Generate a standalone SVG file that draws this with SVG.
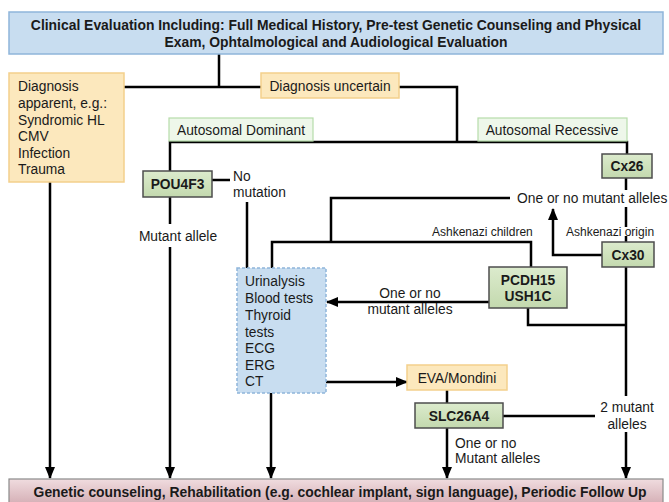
<svg xmlns="http://www.w3.org/2000/svg" width="669" height="502" viewBox="0 0 669 502">
<defs>
<linearGradient id="gGreen" x1="0" y1="0" x2="0" y2="1"><stop offset="0" stop-color="#dcebcd"/><stop offset="1" stop-color="#c3d9ae"/></linearGradient>
<linearGradient id="gPink" x1="0" y1="0" x2="0" y2="1"><stop offset="0" stop-color="#f0dcdf"/><stop offset="1" stop-color="#cfa6ad"/></linearGradient>
<marker id="arr" markerUnits="userSpaceOnUse" markerWidth="12" markerHeight="12" viewBox="0 0 12 12" refX="11" refY="6" orient="auto"><path d="M0,1 L12,6 L0,11 Z" fill="#000"/></marker>
<style>
text{font-family:"Liberation Sans",Arial,sans-serif;fill:#1a1a1a;font-size:13.8px}
.b{font-weight:bold}
.t{font-size:13.9px}
.s{font-size:12px}
.m{text-anchor:middle}
.con path{fill:none;stroke:#000;stroke-width:2.5}
.blue{fill:#c8ddf0;stroke:#8fb5da;stroke-width:1.5}
.tan{fill:#fce8bd;stroke:#f3d08c;stroke-width:1.5}
.lg{fill:#eef7ea;stroke:#b6dcaa;stroke-width:1.2}
.gr{fill:url(#gGreen);stroke:#4d4d4d;stroke-width:1.5}
</style>
</defs>
<rect width="669" height="502" fill="#fff"/>
<g class="con">
<path d="M219,54 V87"/>
<path d="M124,87 H261"/>
<path d="M399,87 H457 V142"/>
<path d="M170,171 V142 H627 V154"/>
<path d="M212,180 H230"/>
<path d="M170,197 V224"/>
<path d="M170,247 V478" marker-end="url(#arr)"/>
<path d="M247,202 V268"/>
<path d="M626,178 V190"/>
<path d="M626,207 V227"/>
<path d="M626,236 V396"/>
<path d="M510,198 H331 V242"/>
<path d="M272,268 V242 H531 V267"/>
<path d="M602,255 H553 V209" marker-end="url(#arr)"/>
<path d="M489,302 H327" marker-end="url(#arr)"/>
<path d="M528,308 V325 H626"/>
<path d="M268,382 H407" marker-end="url(#arr)"/>
<path d="M447,390 V403"/>
<path d="M503,416 H595"/>
<path d="M626,432 V478" marker-end="url(#arr)"/>
<path d="M447,428 V478" marker-end="url(#arr)"/>
<path d="M50,182 V478" marker-end="url(#arr)"/>
<path d="M271,393 V478" marker-end="url(#arr)"/>
</g>
<g id="clinical_evaluation">
<rect class="blue" x="9" y="12" width="654" height="42"/>
<text class="b m t" x="336" y="30">Clinical Evaluation Including: Full Medical History, Pre-test Genetic Counseling  and Physical</text>
<text class="b m t" x="336" y="47">Exam, Ophtalmological and Audiological Evaluation</text>
</g>
<g id="diagnosis_apparent">
<rect class="tan" x="9" y="73" width="115" height="109"/>
<text x="18" y="91">Diagnosis</text>
<text x="18" y="108">apparent, e.g.:</text>
<text x="18" y="125">Syndromic HL</text>
<text x="18" y="141">CMV</text>
<text x="18" y="158">Infection</text>
<text x="18" y="174">Trauma</text>
</g>
<g id="diagnosis_uncertain">
<rect class="tan" x="261" y="73" width="138" height="25"/>
<text class="m" x="330" y="91">Diagnosis uncertain</text>
</g>
<g id="autosomal_dominant">
<rect class="lg" x="169" y="118" width="144" height="23"/>
<text class="m" x="241" y="135">Autosomal Dominant</text>
</g>
<g id="autosomal_recessive">
<rect class="lg" x="478" y="118" width="149" height="23"/>
<text class="m" x="552" y="135">Autosomal Recessive</text>
</g>
<g id="pou4f3">
<rect class="gr" x="143" y="171" width="69" height="26"/>
<text class="b m" x="177.5" y="189">POU4F3</text>
</g>
<g id="no_mutation">
<text x="233" y="181">No</text>
<text x="233" y="197">mutation</text>
</g>
<g id="mutant_allele">
<text class="m" x="178" y="241">Mutant allele</text>
</g>
<g id="cx26">
<rect class="gr" x="602" y="154" width="50" height="24"/>
<text class="b m" x="627" y="171">Cx26</text>
</g>
<g id="one_or_no_1">
<text x="517" y="203">One or no mutant alleles</text>
</g>
<g id="ashkenazi_origin">
<text class="s" x="566" y="236">Ashkenazi  origin</text>
</g>
<g id="ashkenazi_children">
<text class="s" x="432" y="236">Ashkenazi children</text>
</g>
<g id="cx30">
<rect class="gr" x="602" y="242" width="52" height="25"/>
<text class="b m" x="628" y="260">Cx30</text>
</g>
<g id="pcdh15_ush1c">
<rect class="gr" x="489" y="267" width="78" height="41"/>
<text class="b m" x="528" y="285">PCDH15</text>
<text class="b m" x="528" y="301">USH1C</text>
</g>
<g id="tests">
<rect class="blue" x="237" y="268" width="89" height="125" stroke-dasharray="3,2" stroke-width="1"/>
<text x="245" y="286">Urinalysis</text>
<text x="245" y="303">Blood tests</text>
<text x="245" y="320">Thyroid</text>
<text x="245" y="337">tests</text>
<text x="245" y="353">ECG</text>
<text x="245" y="370">ERG</text>
<text x="245" y="386">CT</text>
</g>
<g id="one_or_no_2">
<text class="m" x="410" y="298">One or no</text>
<text class="m" x="410" y="314">mutant alleles</text>
</g>
<g id="eva_mondini">
<rect class="tan" x="407" y="365" width="100" height="25"/>
<text class="m" x="457" y="383">EVA/Mondini</text>
</g>
<g id="slc26a4">
<rect class="gr" x="415" y="403" width="88" height="25"/>
<text class="b m" x="459" y="421">SLC26A4</text>
</g>
<g id="two_mutant">
<text class="m" x="627" y="412">2 mutant</text>
<text class="m" x="627" y="429">alleles</text>
</g>
<g id="one_or_no_3">
<text x="455" y="448">One or no</text>
<text x="455" y="463">Mutant alleles</text>
</g>
<g id="follow_up">
<rect x="9" y="479" width="654" height="30" fill="url(#gPink)" stroke="#8a8a8a" stroke-width="1.2"/>
<text class="b m t" x="340" y="497">Genetic counseling, Rehabilitation (e.g. cochlear implant, sign language), Periodic Follow Up</text>
</g>
</svg>
